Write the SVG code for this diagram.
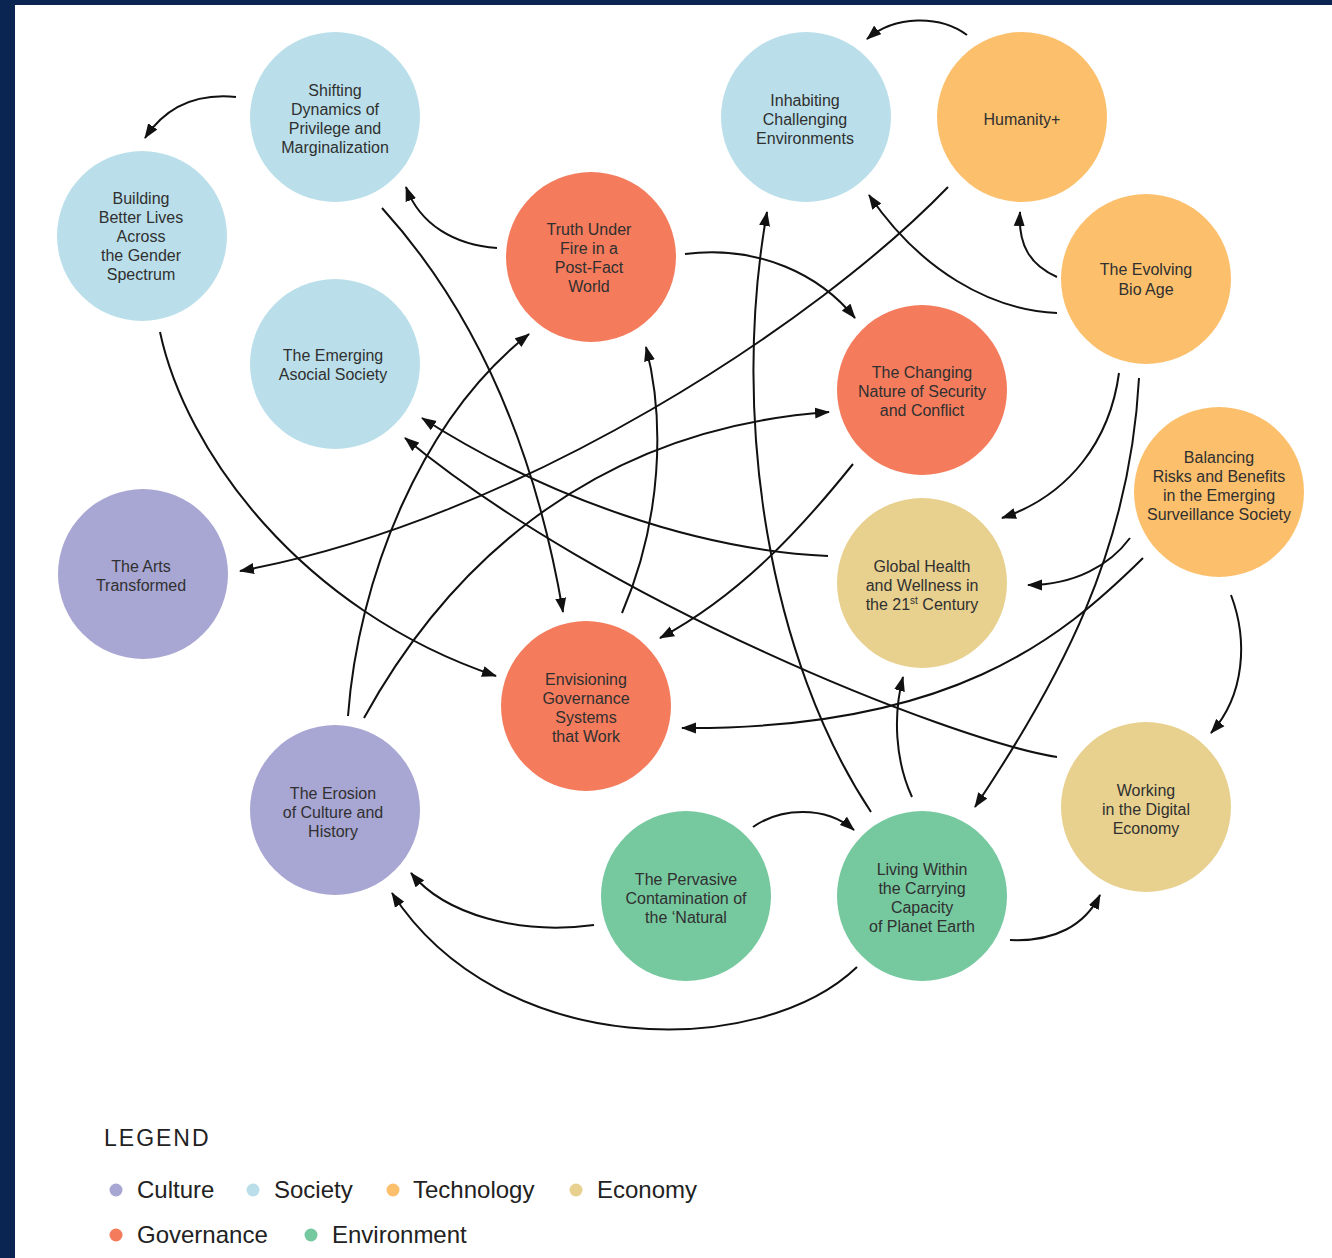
<svg xmlns="http://www.w3.org/2000/svg" width="1332" height="1258" viewBox="0 0 1332 1258">
<defs>
<marker id="ah" markerUnits="userSpaceOnUse" markerWidth="16" markerHeight="12" refX="14" refY="6" orient="auto">
<path d="M0,0.5 L15,6 L0,11.5 Z" fill="#111"/>
</marker>
<style>
.soc{fill:#BADFEA}
.gov{fill:#F47B5C}
.tec{fill:#FCBF6C}
.eco{fill:#E8D08F}
.cul{fill:#A8A6D3}
.env{fill:#76C89F}
.t{font-family:"Liberation Sans",Arial,sans-serif;font-size:16px;fill:#303030;text-anchor:middle}
.c path{fill:none;stroke:#111;stroke-width:2;marker-end:url(#ah)}
.lg{font-family:"Liberation Sans",Arial,sans-serif;fill:#222}
</style>
</defs>
<rect x="0" y="0" width="1332" height="1258" fill="#fff"/>
<rect x="0" y="0" width="15" height="1258" fill="#0B2552"/>
<rect x="0" y="0" width="1332" height="5" fill="#0B2552"/>

<g id="n-shifting"><circle class="soc" cx="335" cy="117" r="85"/>
<text class="t"><tspan x="335" y="96">Shifting</tspan><tspan x="335" y="115">Dynamics of</tspan><tspan x="335" y="134">Privilege and</tspan><tspan x="335" y="153">Marginalization</tspan></text></g>

<g id="n-building"><circle class="soc" cx="142" cy="236" r="85"/>
<text class="t"><tspan x="141" y="204">Building</tspan><tspan x="141" y="223">Better Lives</tspan><tspan x="141" y="242">Across</tspan><tspan x="141" y="261">the Gender</tspan><tspan x="141" y="280">Spectrum</tspan></text></g>

<g id="n-asocial"><circle class="soc" cx="335" cy="364" r="85"/>
<text class="t"><tspan x="333" y="361">The Emerging</tspan><tspan x="333" y="380">Asocial Society</tspan></text></g>

<g id="n-truth"><circle class="gov" cx="591" cy="257" r="85"/>
<text class="t"><tspan x="589" y="235">Truth Under</tspan><tspan x="589" y="254">Fire in a</tspan><tspan x="589" y="273">Post-Fact</tspan><tspan x="589" y="292">World</tspan></text></g>

<g id="n-inhabiting"><circle class="soc" cx="806" cy="117" r="85"/>
<text class="t"><tspan x="805" y="106">Inhabiting</tspan><tspan x="805" y="125">Challenging</tspan><tspan x="805" y="144">Environments</tspan></text></g>

<g id="n-humanity"><circle class="tec" cx="1022" cy="117" r="85"/>
<text class="t"><tspan x="1022" y="125">Humanity+</tspan></text></g>

<g id="n-bioage"><circle class="tec" cx="1146" cy="279" r="85"/>
<text class="t"><tspan x="1146" y="275">The Evolving</tspan><tspan x="1146" y="295">Bio Age</tspan></text></g>

<g id="n-security"><circle class="gov" cx="922" cy="390" r="85"/>
<text class="t"><tspan x="922" y="378">The Changing</tspan><tspan x="922" y="397">Nature of Security</tspan><tspan x="922" y="416">and Conflict</tspan></text></g>

<g id="n-surveillance"><circle class="tec" cx="1219" cy="492" r="85"/>
<text class="t"><tspan x="1219" y="463">Balancing</tspan><tspan x="1219" y="482">Risks and Benefits</tspan><tspan x="1219" y="501">in the Emerging</tspan><tspan x="1219" y="520">Surveillance Society</tspan></text></g>

<g id="n-health"><circle class="eco" cx="922" cy="583" r="85"/>
<text class="t"><tspan x="922" y="572">Global Health</tspan><tspan x="922" y="591">and Wellness in</tspan><tspan x="922" y="610">the 21<tspan font-size="10" dy="-6">st</tspan><tspan dy="6"> Century</tspan></tspan></text></g>

<g id="n-arts"><circle class="cul" cx="143" cy="574" r="85"/>
<text class="t"><tspan x="141" y="572">The Arts</tspan><tspan x="141" y="591">Transformed</tspan></text></g>

<g id="n-governance"><circle class="gov" cx="586" cy="706" r="85"/>
<text class="t"><tspan x="586" y="685">Envisioning</tspan><tspan x="586" y="704">Governance</tspan><tspan x="586" y="723">Systems</tspan><tspan x="586" y="742">that Work</tspan></text></g>

<g id="n-erosion"><circle class="cul" cx="335" cy="810" r="85"/>
<text class="t"><tspan x="333" y="799">The Erosion</tspan><tspan x="333" y="818">of Culture and</tspan><tspan x="333" y="837">History</tspan></text></g>

<g id="n-contamination"><circle class="env" cx="686" cy="896" r="85"/>
<text class="t"><tspan x="686" y="885">The Pervasive</tspan><tspan x="686" y="904">Contamination of</tspan><tspan x="686" y="923">the ‘Natural</tspan></text></g>

<g id="n-living"><circle class="env" cx="922" cy="896" r="85"/>
<text class="t"><tspan x="922" y="875">Living Within</tspan><tspan x="922" y="894">the Carrying</tspan><tspan x="922" y="913">Capacity</tspan><tspan x="922" y="932">of Planet Earth</tspan></text></g>

<g id="n-digital"><circle class="eco" cx="1146" cy="807" r="85"/>
<text class="t"><tspan x="1146" y="796">Working</tspan><tspan x="1146" y="815">in the Digital</tspan><tspan x="1146" y="834">Economy</tspan></text></g>

<g id="connectors" class="c">
<path d="M236,97 C195,93 165,108 145,138"/>
<path d="M497,248 C455,245 420,225 406,187"/>
<path d="M382,208 Q520,360 563,612"/>
<path d="M160,332 C185,450 300,610 496,676"/>
<path d="M948,187 C820,320 520,520 240,571"/>
<path d="M348,716 C358,580 420,420 529,334"/>
<path d="M364,718 C440,580 580,430 829,412"/>
<path d="M622,613 C662,520 665,420 646,347"/>
<path d="M685,254 C760,245 820,275 855,318"/>
<path d="M871,812 C770,660 730,420 767,212"/>
<path d="M912,797 C895,760 893,715 903,677"/>
<path d="M1057,277 C1030,265 1018,245 1020,212"/>
<path d="M967,35 C940,15 895,15 867,39"/>
<path d="M1057,313 C990,310 920,270 869,195"/>
<path d="M1119,373 C1110,440 1070,495 1002,518"/>
<path d="M1139,378 C1130,550 1060,680 975,807"/>
<path d="M1130,538 C1110,565 1075,585 1028,585"/>
<path d="M1143,558 C1060,640 950,730 682,728"/>
<path d="M1231,595 C1248,640 1245,695 1211,733"/>
<path d="M828,556 C700,550 550,500 422,418"/>
<path d="M1057,757 C950,740 600,600 405,438"/>
<path d="M853,464 C800,530 740,595 660,638"/>
<path d="M753,827 C780,808 825,805 854,830"/>
<path d="M594,925 C520,935 445,915 411,873"/>
<path d="M857,967 C760,1060 500,1060 392,893"/>
<path d="M1010,940 C1055,942 1085,925 1100,895"/>
</g>

<g id="legend">
<text class="lg" x="104" y="1146" font-size="23" letter-spacing="2">LEGEND</text>
<circle cx="116" cy="1190" r="6.5" class="cul"/><text class="lg" x="137" y="1198" font-size="24">Culture</text>
<circle cx="253" cy="1190" r="6.5" class="soc"/><text class="lg" x="274" y="1198" font-size="24">Society</text>
<circle cx="393" cy="1190" r="6.5" class="tec"/><text class="lg" x="413" y="1198" font-size="24">Technology</text>
<circle cx="576" cy="1190" r="6.5" class="eco"/><text class="lg" x="597" y="1198" font-size="24">Economy</text>
<circle cx="116" cy="1235" r="6.5" class="gov"/><text class="lg" x="137" y="1243" font-size="24">Governance</text>
<circle cx="311" cy="1235" r="6.5" class="env"/><text class="lg" x="332" y="1243" font-size="24">Environment</text>
</g>
</svg>
